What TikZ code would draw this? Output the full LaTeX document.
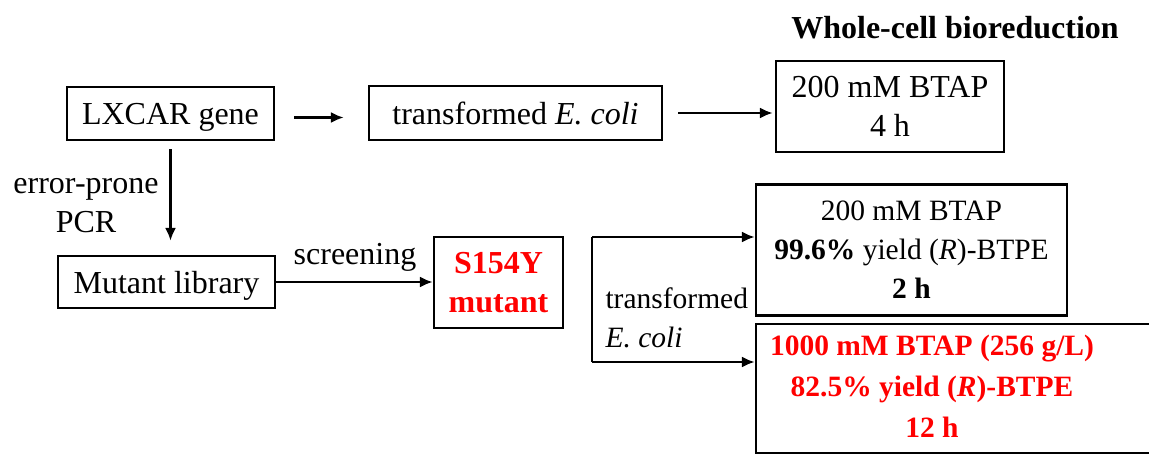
\documentclass[tikz,border=0pt]{standalone}
\usepackage{fontspec}
\setmainfont{Liberation Serif}
\usetikzlibrary{calc,positioning,arrows.meta}
\tikzset{
  box/.style={draw, line width=2.4pt, inner sep=0pt, align=center},
  flow/.style={line width=2.2pt, -{Latex[length=13pt,width=11pt]}},
  small/.style={font=\fontsize{29.5}{39}\selectfont},
  hot/.style={text=red, font=\fontsize{29.5}{39}\selectfont\bfseries},
}
\begin{document}
\begin{tikzpicture}[x=1pt, y=-1pt, font=\fontsize{32}{39}\selectfont]
    \useasboundingbox (0,0) rectangle (1149,455);

    % boxes
    \node [box, text depth=0pt, minimum width=207pt, minimum height=53pt] (gene) at (170.5,113.5) {LXCAR gene};
    \node [box, minimum width=293pt, minimum height=54pt] (ecoli) at (515.5,113) {transformed \textit{E. coli}};
    \node [box, minimum width=228pt, minimum height=91pt] (cond) at (890,106.5) {200 mM BTAP\\4 h};
    \node [box, text depth=0pt, minimum width=217pt, minimum height=52pt] (library) at (166.5,282) {Mutant library};
    \node [box, hot, font=\fontsize{32}{39}\selectfont\bfseries, minimum width=129pt, minimum height=91pt] (mutant) at (498.5,282.5) {S154Y\\mutant};
    \node [box, small, minimum width=311pt, minimum height=131pt] (condA) at (911.5,250)
        {200 mM BTAP\\\textbf{99.6\%} yield (\textit{R})-BTPE\\\textbf{2 h}};
    \node [box, hot, minimum width=404pt, minimum height=129pt] (condB) at (958,388.5)
        {\raisebox{-4pt}{\renewcommand\arraystretch{1.05}%
         \begin{tabular}{@{}c@{}}1000 mM BTAP (256 g/L)\\82.5\% yield (\textit{R})-BTPE\\12 h\end{tabular}}\hspace{52pt}};

    % labels
    \node [font=\fontsize{32}{39}\selectfont\bfseries] (title) at (955,28) {Whole-cell bioreduction};
    \node [align=center] (pcr) at (86,206) {error-prone\\PCR};
    \node (screen) at (355,257) {screening};
    \node [small, align=left, anchor=west] (strain) at (602,318) {transformed\\\textit{E. coli}};

    % connectors
    \draw [flow, shorten <=19pt, shorten >=24pt] ($(gene.east)+(0,4)$) -- ($(gene.east -| ecoli.west)+(0,4)$);
    \draw [flow, shorten <=15pt, shorten >=2pt] (ecoli.east) -- (ecoli.east -| cond.west);
    \draw [flow, shorten <=8pt, shorten >=14pt] (gene.south) -- (gene.south |- library.north);
    \draw [flow] (library.east) -- (library.east -| mutant.west);

    % bracket to the two conditions
    \coordinate (brtop) at (592,237);
    \coordinate (brbot) at (592,362);
    \draw [line width=2.2pt] (brtop) -- (brbot);
    \draw [flow] (brtop) -- (brtop -| condA.west);
    \draw [flow] (brbot) -- (brbot -| condB.west);
\end{tikzpicture}
\end{document}
